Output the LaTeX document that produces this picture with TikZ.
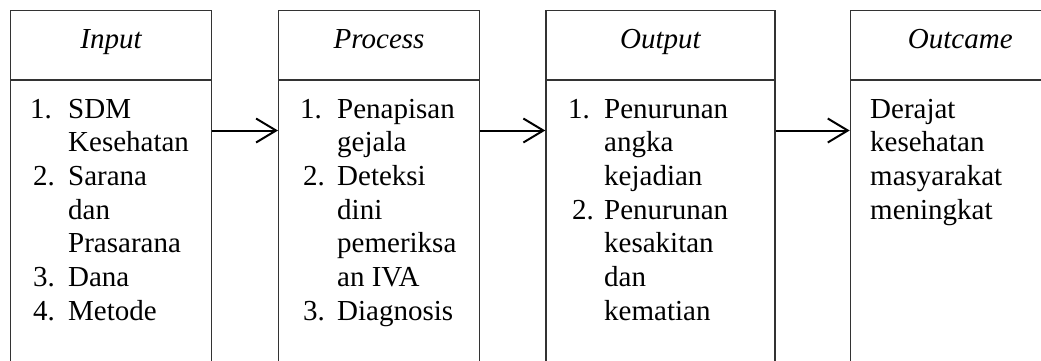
\documentclass[tikz,border=0pt]{standalone}
\usepackage{fontspec}
\setmainfont{Liberation Serif}
\usetikzlibrary{arrows.meta}

% fixed line pitch inside the column texts
\newcommand{\cellfont}{\fontsize{29}{33.7}\selectfont\setlength{\lineskiplimit}{-100pt}}
\newcommand{\numat}[2]{\leavevmode\llap{\makebox[#1][l]{#2}}}

\begin{document}
\begin{tikzpicture}[x=1pt,y=-1pt,
  frame/.style={draw=black!80, line width=1.2pt, rectangle, inner sep=0pt, anchor=north west},
  head/.style={font=\cellfont\itshape, anchor=base, inner sep=0pt},
  body/.style={font=\cellfont, anchor=base west, inner sep=0pt},
  flow/.style={draw=black, line width=2pt, -{Straight Barb[length=20pt,width=24pt,line width=2pt]}}]

\useasboundingbox (0,0) rectangle (1041,360);
\clip (0,0) rectangle (1041,360);

% header cells and body cells (bodies run past the lower edge)
\node[frame, minimum width=200.7pt, minimum height=69.3pt] (h1) at (10,10) {};
\node[frame, minimum width=200.7pt, minimum height=300pt]  (b1) at (10,79.3) {};
\node[frame, minimum width=201pt,   minimum height=69.3pt] (h2) at (278,10) {};
\node[frame, minimum width=201pt,   minimum height=300pt]  (b2) at (278,79.3) {};
\node[frame, minimum width=229pt,   minimum height=69.3pt] (h3) at (545.3,10) {};
\node[frame, minimum width=229pt,   minimum height=300pt]  (b3) at (545.3,79.3) {};
\node[frame, minimum width=220pt,   minimum height=69.3pt] (h4) at (849.7,10) {};
\node[frame, minimum width=220pt,   minimum height=300pt]  (b4) at (849.7,79.3) {};

% column titles
\coordinate (hy) at (0,48.3);
\node[head] (l1) at (h1.center |- hy) {Input};
\node[head] (l2) at (h2.center |- hy) {Process};
\node[head] (l3) at (h3.center |- hy) {Output};
\node[head] (l4) at (h4.center |- hy) {Outcame};

% column contents
\node[body] (t1) at (68,118) {\parbox[t]{150pt}{\raggedright
  \numat{38pt}{1.}SDM\\
  Kesehatan\\
  \numat{35pt}{2.}Sarana\\
  dan\\
  Prasarana\\
  \numat{35pt}{3.}Dana\\
  \numat{35pt}{4.}Metode}};
\node[body] (t2) at (337,118) {\parbox[t]{150pt}{\raggedright
  \numat{37pt}{1.}Penapisan\\
  gejala\\
  \numat{34pt}{2.}Deteksi\\
  dini\\
  pemeriksa\\
  an IVA\\
  \numat{34pt}{3.}Diagnosis}};
\node[body] (t3) at (604,118) {\parbox[t]{170pt}{\raggedright
  \numat{36pt}{1.}Penurunan\\
  angka\\
  kejadian\\
  \numat{32pt}{2.}Penurunan\\
  kesakitan\\
  dan\\
  kematian}};
\node[body] (t4) at (870,118) {\parbox[t]{170pt}{\raggedright
  Derajat\\
  kesehatan\\
  masyarakat\\
  meningkat}};

% flow arrows between the columns
\coordinate (ay) at (0,130.5);
\draw[flow] (b1.east |- ay) -- (b2.west |- ay);
\draw[flow] (b2.east |- ay) -- (b3.west |- ay);
\draw[flow] (b3.east |- ay) -- (b4.west |- ay);
\end{tikzpicture}
\end{document}
